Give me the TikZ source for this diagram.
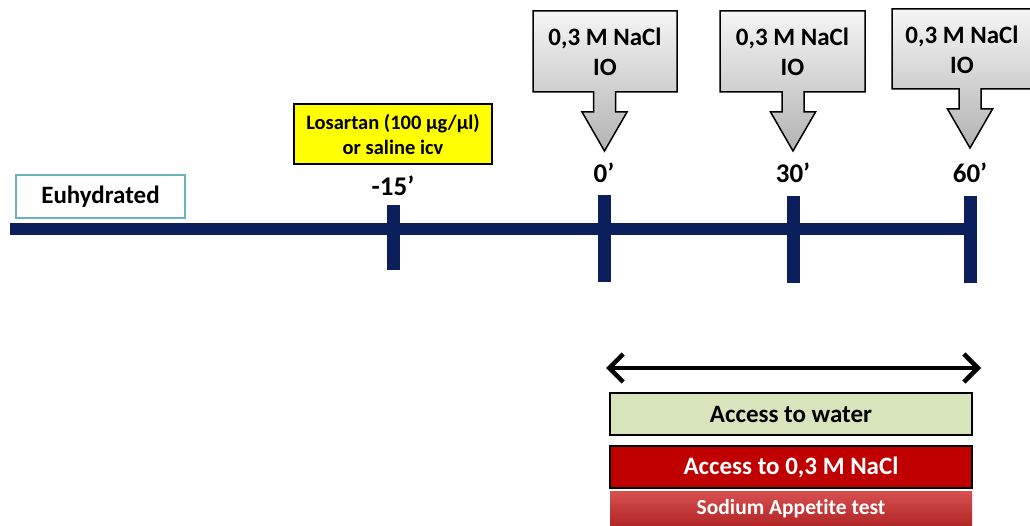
\documentclass[tikz,border=0pt]{standalone}
\usepackage{fontspec}
\setmainfont{Carlito}[Ligatures={NoCommon}]
\usetikzlibrary{arrows.meta}
\definecolor{navy}{HTML}{0A1F5C}
\definecolor{teal}{HTML}{6AB2BC}
\definecolor{ylw}{HTML}{FFFF00}
\definecolor{water}{HTML}{D8E4BC}
\definecolor{darkred}{HTML}{C00000}
\definecolor{redtop}{HTML}{D85050}
\definecolor{redbot}{HTML}{B02424}
\begin{document}
\begin{tikzpicture}[x=1pt,y=-1pt,
  txt/.style={font=\bfseries\fontsize{25}{30}\selectfont, inner sep=0pt, align=center},
  timelbl/.style={font=\bfseries\fontsize{27}{30}\selectfont, inner sep=0pt},
  tickline/.style={line width=13pt, navy},
  callout/.style={top color=gray!8, bottom color=gray!60, draw=black, line width=1.5pt, line join=miter},
  bar/.style={draw=black, line width=2pt, minimum width=362pt, minimum height=42pt, inner sep=0pt}
]
\useasboundingbox (0,0) rectangle (1030,526);
% main line
\coordinate (lstart) at (10,229);
\coordinate (lend) at (970,229);
\draw[line width=12pt, navy] (lstart) -- (lend);
% ticks
\coordinate (t1a) at (393,205); \coordinate (t1b) at (393,270);
\coordinate (t2a) at (604,195); \coordinate (t2b) at (604,282);
\coordinate (t3a) at (793,196); \coordinate (t3b) at (793,283);
\coordinate (t4a) at (970,196); \coordinate (t4b) at (970,283);
\draw[tickline] (t1a) -- (t1b);
\draw[tickline] (t2a) -- (t2b);
\draw[tickline] (t3a) -- (t3b);
\draw[tickline] (t4a) -- (t4b);
% time labels
\node[timelbl] (m15) at (393,186) {-15’};
\node[timelbl] (z0) at (604,173) {0’};
\node[timelbl] (z30) at (793,173) {30’};
\node[timelbl] (z60) at (970,173) {60’};
% euhydrated
\node[draw=teal, line width=2pt, minimum width=169pt, minimum height=43pt, inner sep=0pt, txt] (euh) at (100.5,196.5) {Euhydrated};
% losartan
\node[draw=black, fill=ylw, line width=2pt, minimum width=198pt, minimum height=60pt, inner sep=0pt,
      font=\bfseries\fontsize{20.5}{25}\selectfont, align=center] (los) at (393,134) {Losartan (100 µg/µl)\\or saline icv};
% callouts
\path[callout] (533,11) -- (677,11) -- (677,92) -- (615.5,92) -- (615.5,112) -- (627,112) -- (604.5,151) -- (582,112) -- (593.5,112) -- (593.5,92) -- (533,92) -- cycle;
\path[callout] (720,11) -- (865,11) -- (865,92) -- (804,92) -- (804,112) -- (815.5,112) -- (793,151) -- (770.5,112) -- (782,112) -- (782,92) -- (720,92) -- cycle;
\path[callout] (892,9) -- (1034,9) -- (1034,89) -- (981,89) -- (981,109) -- (992.5,109) -- (970,148) -- (947.5,109) -- (959,109) -- (959,89) -- (892,89) -- cycle;
\node[txt] (c1) at (605,52) {0,3 M NaCl\\IO};
\node[txt] (c2) at (792.5,52) {0,3 M NaCl\\IO};
\node[txt] (c3) at (962,50) {0,3 M NaCl\\IO};
% double arrow
\coordinate (aL) at (606,368);
\coordinate (aR) at (981,368);
\draw[line width=4.5pt, {Straight Barb[length=14pt,width=28pt,line width=4.5pt]}-{Straight Barb[length=14pt,width=28pt,line width=4.5pt]}] (aL) -- (aR);
% bars
\node[bar, fill=water, txt] (water) at (791,414) {Access to water};
\node[bar, fill=darkred, txt, text=white] (nacl) at (791,467) {Access to 0,3 M NaCl};
\node[top color=redtop, bottom color=redbot, minimum width=362pt, minimum height=36pt, inner sep=0pt,
      font=\bfseries\fontsize{21.5}{24}\selectfont, text=white] (sat) at (791,509) {Sodium Appetite test};
\end{tikzpicture}
\end{document}
